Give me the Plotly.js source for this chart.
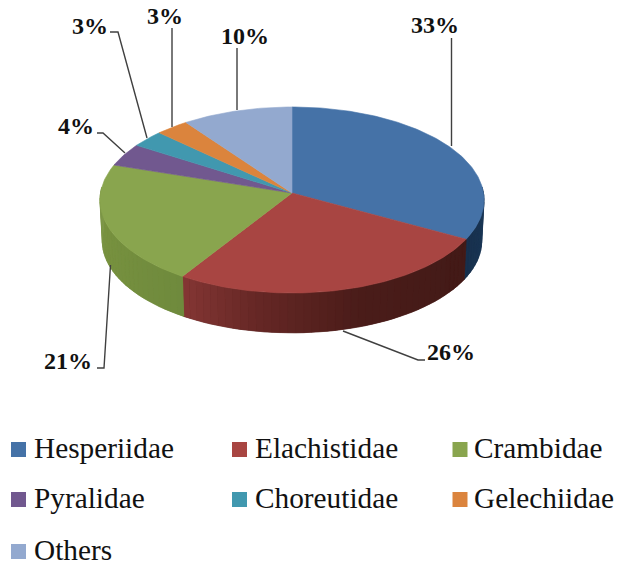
<!DOCTYPE html>
<html>
<head>
<meta charset="utf-8">
<script src="https://cdn.plot.ly/plotly-3.0.1.min.js"></script>
<style>html,body{margin:0;padding:0;background:#fff}</style>
</head>
<body>
<div id="chart" style="width:619px;height:572px"></div>
<script>
// Data
const families = ['Hesperiidae','Elachistidae','Crambidae','Pyralidae','Choreutidae','Gelechiidae','Others'];
const shares = [33,26,21,4,3,3,10];

// Styles
const topColors = ['#4572A7','#A84542','#89A54E','#71588F','#4198AF','#DB843D','#93A9CF'];
const wallStops = [
  [[0,'#1d3a5a'],[1,'#17304d']],
  [[0,'#421a17'],[0.45,'#4a1c19'],[0.75,'#652725'],[1,'#843634']],
  [[0,'#6f8a3d'],[0.6,'#77913f'],[1,'#7d9748']],
  [[0,'#5b4674'],[1,'#5b4674']],
  [[0,'#33798c'],[1,'#33798c']],
  [[0,'#b06a30'],[1,'#b06a30']],
  [[0,'#7687a6'],[1,'#7687a6']]
];
const labelPos = [[435,25],[451,352],[68,361],[76,126],[90,26],[165,16],[245,36]];
const leaderPaths = [
  'M451.5,38 L451.5,146',
  'M343,331 L418,360 L425,360',
  'M110.5,265 L104,368 L97,368',
  'M97,133 L103,133 L125,153',
  'M110,32 L118,32 L147,138',
  'M172,28 L172,127',
  'M237,48 L237,110'
];
const legendPos = [[18.5,449.5],[239.5,449.5],[460,449.5],[18.5,499.5],[239.5,499.5],[460,499.5],[18.5,551.5]];
const legendTextX = [32.5,253.5,473,32.5,253.5,473,32.5];

// Projection of the tilted disc: fraction of the way round, clockwise from the top
const cx=292, cy=193, b=191.5, a=92.5, k=0.0753, depth=41, bottomScale=0.988;
function rim(fr, lower){
  const t=fr*2*Math.PI, c=Math.sin(t), s=-Math.cos(t), d=1-k*s;
  const f=lower?bottomScale:1;
  return [cx+f*b*c/d, cy+f*a*s/d+(lower?depth:0)];
}
function hex(c){return [1,3,5].map(i=>parseInt(c.substr(i,2),16));}
function colorAt(stops,u){
  for(let i=1;i<stops.length;i++){
    if(u<=stops[i][0]){
      const p=stops[i-1],q=stops[i],w=(u-p[0])/((q[0]-p[0])||1);
      const A=hex(p[1]),B=hex(q[1]);
      return 'rgb('+A.map((v,j)=>Math.round(v+(B[j]-v)*w)).join(',')+')';
    }
  }
  return stops[stops.length-1][1];
}

const total=shares.reduce((p,v)=>p+v,0);
const traces=[], tops=[];
let acc=0;
const frontFrom=0.24, frontTo=0.76;
shares.forEach((v,i)=>{
  const f0=acc/total, f1=(acc+v)/total; acc+=v;
  const w0=Math.max(f0,frontFrom), w1=Math.min(f1,frontTo);
  if(w1>w0){
    const n=Math.max(3,Math.round((w1-w0)*160));
    const up=[],lo=[];
    for(let j=0;j<=n;j++){const p=w0+(w1-w0)*j/n; up.push(rim(p,false)); lo.unshift(rim(p,true));}
    const base=up.concat(lo,[up[0]]);
    traces.push({type:'scatter',mode:'lines',x:base.map(o=>o[0]),y:base.map(o=>o[1]),fill:'toself',
      fillcolor:colorAt(wallStops[i],0.5),line:{color:colorAt(wallStops[i],0.5),width:0.5},hoverinfo:'skip',showlegend:false});
    for(let j=0;j<n;j++){
      const p=w0+(w1-w0)*j/n, q=w0+(w1-w0)*(j+1)/n;
      const pts=[rim(p,false),rim(q,false),rim(q,true),rim(p,true),rim(p,false)];
      const col=colorAt(wallStops[i],(j+0.5)/n);
      traces.push({type:'scatter',mode:'lines',x:pts.map(o=>o[0]),y:pts.map(o=>o[1]),fill:'toself',
        fillcolor:col,line:{color:col,width:0.4},hoverinfo:'skip',showlegend:false});
    }
  }
  const pts=[[cx,cy]], n=Math.max(8,Math.round(v*4));
  for(let j=0;j<=n;j++) pts.push(rim(f0+(f1-f0)*j/n,false));
  pts.push([cx,cy]);
  tops.push({type:'scatter',mode:'lines',name:families[i],x:pts.map(o=>o[0]),y:pts.map(o=>o[1]),fill:'toself',
    fillcolor:topColors[i],line:{color:topColors[i],width:0.6},hoverinfo:'name',showlegend:false});
});

// Legend swatches
const legendTraces=families.map((name,i)=>({
  type:'scatter',mode:'markers',name:name,x:[legendPos[i][0]],y:[legendPos[i][1]],
  cliponaxis:false,
  marker:{symbol:'square',size:15,color:topColors[i],line:{width:0}},
  hoverinfo:'skip',showlegend:false
}));

const annotations=shares.map((v,i)=>({
  xref:'x',yref:'y',x:labelPos[i][0],y:labelPos[i][1],text:'<b>'+v+'%</b>',showarrow:false,
  xanchor:'center',yanchor:'middle',font:{family:'"Liberation Serif",serif',size:24,color:'#111'}
})).concat(families.map((name,i)=>({
  xref:'x',yref:'y',x:legendTextX[i],y:legendPos[i][1],text:name,showarrow:false,
  xanchor:'left',yanchor:'middle',yshift:1.5,borderpad:0,
  font:{family:'"Liberation Serif",serif',size:29.3,color:'#111'}
})));
const shapes=leaderPaths.map(p=>({type:'path',xref:'x',yref:'y',path:p,line:{color:'#404040',width:1.4}}));

Plotly.newPlot('chart',traces.concat(tops,legendTraces),{
  width:619,height:572,autosize:false,
  margin:{l:0,r:0,t:0,b:0,pad:0},
  paper_bgcolor:'#fff',plot_bgcolor:'#fff',showlegend:false,
  xaxis:{range:[0,619],visible:false,fixedrange:true},
  yaxis:{range:[572,0],visible:false,fixedrange:true},
  annotations:annotations,shapes:shapes
},{displayModeBar:false,staticPlot:true});
</script>
</body>
</html>
